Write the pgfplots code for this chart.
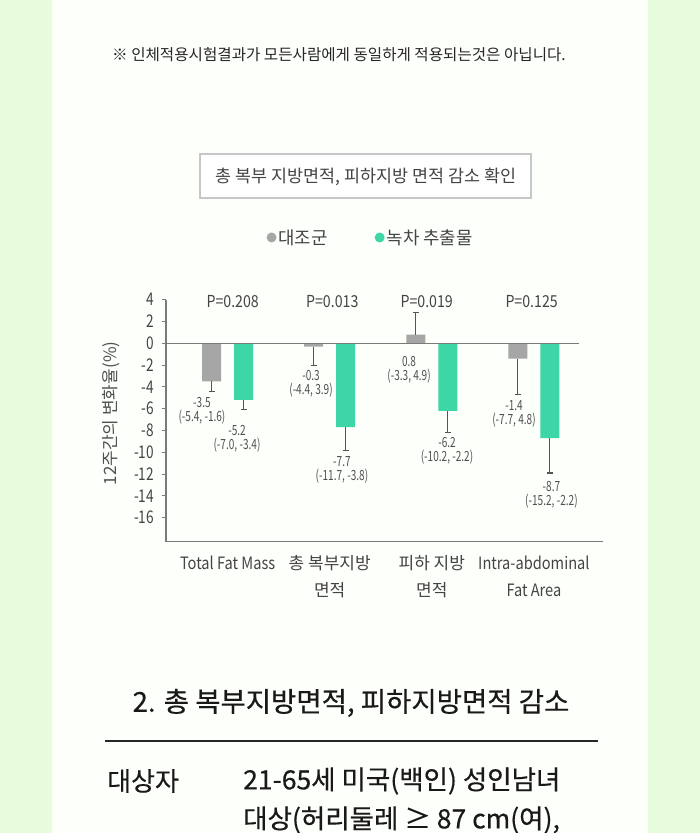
\documentclass[border=0pt]{standalone}
\usepackage{pgfplots}
\pgfplotsset{compat=1.18}
\usepackage{fontspec}
\setmainfont{Noto Sans CJK KR}
\newfontfamily\med{Noto Sans CJK KR}[FakeBold=0.4]
\newfontfamily\cond{Noto Sans CJK KR}[FakeStretch=0.86]
\newfontfamily\condt{Noto Sans CJK KR}[FakeStretch=0.78]
\newfontfamily\condn{Noto Sans CJK KR}[FakeStretch=0.72]
\definecolor{bggreen}{HTML}{E6FCDC}
\definecolor{panel}{HTML}{FDFFFB}
\definecolor{barGray}{HTML}{A6A6A6}
\definecolor{barGreen}{HTML}{3DD6A6}
\definecolor{txt}{HTML}{444444}
\definecolor{lbl}{HTML}{505050}
\definecolor{axisgray}{HTML}{7A7A7A}
\definecolor{errc}{HTML}{555555}
\pgfplotsset{myerr/.style={draw=none, mark=none, forget plot,
  error bars/y explicit,
  error bars/error bar style={draw=errc, line width=1.1bp},
  error bars/error mark options={rotate=90, draw=errc, mark size=3bp, line width=1.1bp}}}
\begin{document}
\begin{tikzpicture}[x=1bp,y=1bp]
\useasboundingbox (0,0) rectangle (700,833);
\clip (0,0) rectangle (700,833);
\fill[bggreen] (0,0) rectangle (700,833);
\fill[panel] (52,0) rectangle (648,833);
% note
\node[font=\fontsize{15.6bp}{18bp}\selectfont, text=black!85] at (339,778) {※ 인체적용시험결과가 모든사람에게 동일하게 적용되는것은 아닙니다.};
% title box
\draw[black!22, line width=1.2bp, fill=white] (200,635) rectangle (531,679);
\node[font=\fontsize{17.4bp}{19bp}\selectfont, text=txt] at (366,656.5) {총 복부 지방면적, 피하지방 면적 감소 확인};
% chart
\begin{axis}[
  at={(227.6bp,489.7bp)}, anchor=origin,
  x=102.1bp, y=10.9bp,
  xmin=-0.603, xmax=3.677, ymin=-18.2, ymax=4,
  axis x line*=bottom, axis y line*=left,
  axis line style={axisgray, line width=1.2bp},
  ytick={-16,-14,...,4},
  yticklabel style={font=\condt\fontsize{17.5bp}{17.5bp}\selectfont, text=txt, xshift=-4bp},
  /pgf/number format/assume math mode=true,
  ytick style={axisgray, line width=1.1bp},
  tick align=outside, major tick length=4.5bp,
  xtick={0,1,2,3},
  xtick style={draw=none},
  xticklabels={{\cond Total Fat Mass}, {총 복부지방\\면적}, {피하 지방\\면적}, {\cond Intra-abdominal\\\cond Fat Area}},
  xticklabel style={font=\fontsize{17bp}{27bp}\selectfont, text=txt, align=center, anchor=north, yshift=-6bp},
  every axis y label/.style={at={(axis description cs:-0.125,0.53)}, rotate=90, anchor=center},
  ylabel={12주간의 변화율(\%)},
  ylabel style={font=\fontsize{17bp}{17bp}\selectfont, text=lbl},
  legend style={at={(axis description cs:0.468,1.257)}, anchor=center, draw=none, fill=none,
    legend columns=2, font=\fontsize{17.8bp}{19bp}\selectfont, text=txt,
    /tikz/every even column/.append style={column sep=45bp}},
  legend cell align=left,
  clip=false,
]
\addplot[ybar, bar width=19bp, bar shift=-16bp, fill=barGray, draw=none,
  legend image code/.code={\fill[barGray] (1bp,0bp) circle (5bp);}]
  coordinates {(0,-3.5) (1,-0.3) (2,0.8) (3,-1.4)};
\addlegendentry{대조군}
\addplot[ybar, bar width=19bp, bar shift=16bp, fill=barGreen, draw=none,
  legend image code/.code={\fill[barGreen] (1bp,0bp) circle (5bp);}]
  coordinates {(0,-5.2) (1,-7.7) (2,-6.2) (3,-8.7)};
\addlegendentry{녹차 추출물}
% error bars (gray at x-0.1567, green at x+0.1567)
\addplot[myerr, error bars/y dir=minus]
  coordinates {(-0.1567,-3.5) -= (0,0.9) (0.8433,-0.3) -= (0,1.7) (2.8433,-1.4) -= (0,3.3)};
\addplot[myerr, error bars/y dir=plus]
  coordinates {(1.8433,0.8) += (0,2.0)};
\addplot[myerr, error bars/y dir=minus]
  coordinates {(0.1567,-5.2) -= (0,0.9) (1.1567,-7.7) -= (0,2.1) (2.1567,-6.2) -= (0,2.0) (3.1567,-8.7) -= (0,3.2)};
\addplot[axisgray, line width=1.2bp, forget plot] coordinates {(-0.603,0) (3.44,0)};
% value labels
\begin{scope}[every node/.style={font=\condn\fontsize{14bp}{14bp}\selectfont, text=lbl, align=center}]
\node at (axis cs:-0.251,-6.17) {-3.5\\(-5.4, -1.6)};
\node at (axis cs:0.092,-8.77) {-5.2\\(-7.0, -3.4)};
\node at (axis cs:0.817,-3.75) {-0.3\\(-4.4, 3.9)};
\node at (axis cs:1.12,-11.6) {-7.7\\(-11.7, -3.8)};
\node at (axis cs:1.777,-2.40) {0.8\\(-3.3, 4.9)};
\node at (axis cs:2.149,-9.86) {-6.2\\(-10.2, -2.2)};
\node at (axis cs:2.805,-6.46) {-1.4\\(-7.7, 4.8)};
\node at (axis cs:3.172,-13.92) {-8.7\\(-15.2, -2.2)};
\end{scope}
\begin{scope}[every node/.style={font=\cond\fontsize{16.5bp}{16.5bp}\selectfont, text=txt}]
\node at (axis cs:0.05,3.82) {P=0.208};
\node at (axis cs:1.025,3.82) {P=0.013};
\node at (axis cs:1.95,3.82) {P=0.019};
\node at (axis cs:2.978,3.82) {P=0.125};
\end{scope}
\end{axis}
% bottom text
\node[font=\med\fontsize{27.5bp}{30bp}\selectfont, text=black!90] at (351,130) {2. 총 복부지방면적, 피하지방면적 감소};
\draw[black!85, line width=1.3bp] (105,92) -- (598,92);
\node[font=\med\fontsize{26bp}{28bp}\selectfont, text=black!90, anchor=west, inner sep=0pt] at (107,52) {대상자};
\node[font=\med\fontsize{26.5bp}{28bp}\selectfont, text=black!90, anchor=west, inner sep=0pt] at (243,52) {21-65세 미국(백인) 성인남녀};
\node[font=\med\fontsize{26.5bp}{28bp}\selectfont, text=black!90, anchor=west, inner sep=0pt] at (243,13) {대상(허리둘레 ≥ 87 cm(여),};
\end{tikzpicture}
\end{document}
